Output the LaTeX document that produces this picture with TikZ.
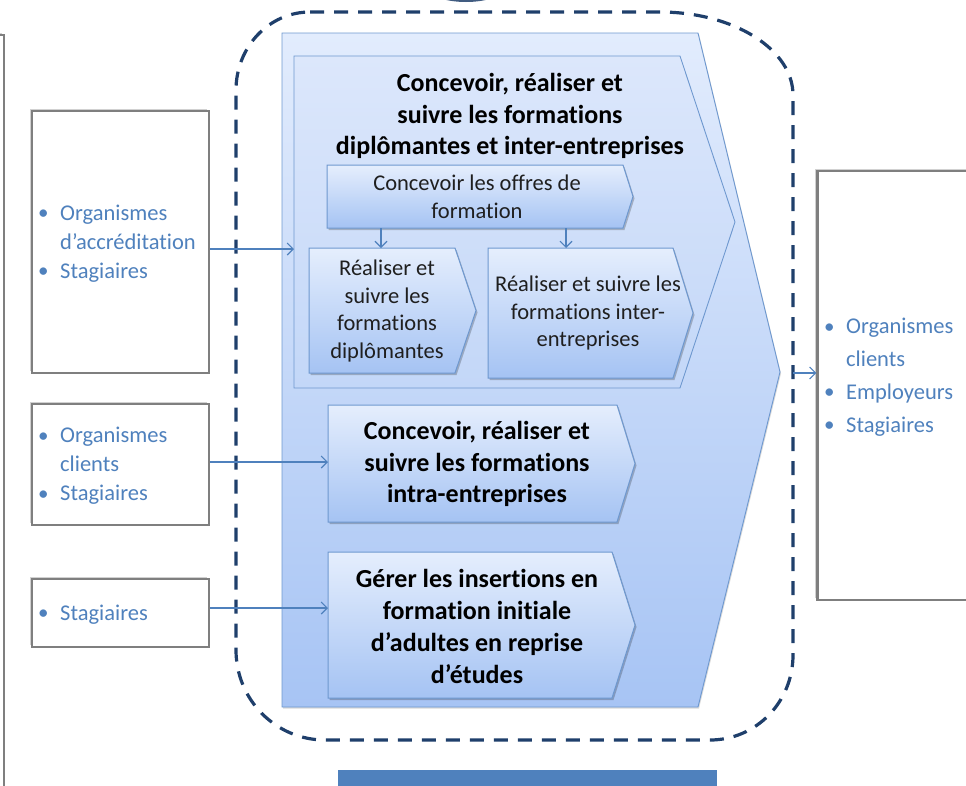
\documentclass[tikz,border=0pt]{standalone}
\usepackage{fontspec}
\setmainfont[Ligatures={NoCommon},RawFeature=-calt]{Carlito}
\usetikzlibrary{arrows.meta,shadows}
\definecolor{dashblue}{HTML}{1F3F6B}
\definecolor{txtblue}{HTML}{4F81BD}
\definecolor{edgeblue}{HTML}{6E98CF}
\definecolor{bigtop}{HTML}{E2ECFD}
\definecolor{bigbot}{HTML}{A7C4F4}
\definecolor{grptop}{HTML}{DCE7FB}
\definecolor{grpbot}{HTML}{C3D7F8}
\definecolor{subtop}{HTML}{E5EEFD}
\definecolor{subbot}{HTML}{A5C3F3}
\definecolor{boxgray}{HTML}{7F7F7F}
\definecolor{barblue}{HTML}{4F81BD}
\tikzset{
  bigchev/.style={draw=edgeblue, line width=0.9pt, top color=bigtop, bottom color=bigbot,
    drop shadow={shadow xshift=1pt, shadow yshift=-1.5pt, fill=black, opacity=.15}},
  grpchev/.style={draw=edgeblue, line width=0.9pt, top color=grptop, bottom color=grpbot},
  subchev/.style={draw=edgeblue, line width=1pt, top color=subtop, bottom color=subbot,
    drop shadow={shadow xshift=1.5pt, shadow yshift=-2pt, fill=black, opacity=.22}},
  inbox/.style={draw=boxgray, line width=2.2pt, fill=white, inner sep=0pt,
    general shadow={shadow xshift=-2.5pt, shadow yshift=2.5pt, fill=black, opacity=.18}},
  ttl/.style={align=center, font=\fontsize{26}{31.5}\selectfont\bfseries, inner sep=0pt, text=black},
  subtxt/.style={align=center, font=\fontsize{22.5}{27.6}\selectfont, inner sep=0pt, text=black!88},
  bul/.style={font=\fontsize{22.5}{29}\selectfont, text=txtblue, inner sep=0pt, anchor=west},
  arr/.style={draw=txtblue, line width=1.1pt, -{Straight Barb[length=6pt, width=12pt]}},
  dashline/.style={draw=dashblue, line width=3.2pt, dash pattern=on 14pt off 10pt}
}
\newcommand{\bitem}{\makebox[22pt][l]{\raisebox{0.5pt}{\fontsize{21}{21}\selectfont •}}}
\begin{document}
\begin{tikzpicture}[x=1pt,y=-1pt]
\useasboundingbox (0,0) rectangle (966,785);
\clip (0,0) rectangle (966,785);

% partial shape at top
\fill[dashblue!85] (466,-12) ellipse [x radius=38, y radius=14];

% left cut box
\node[inbox, minimum width=60pt, minimum height=800pt] (L0) at (-26,435) {};

% dashed boundary
\path[dashline] (310,12) -- (660,12) .. controls (733,12) and (793,49) .. (793,95)
  -- (793,655) .. controls (793,702) and (756,740) .. (710,740)
  -- (325,740) .. controls (276,740) and (236,700) .. (236,650)
  -- (236,90) .. controls (236,47) and (269,12) .. (310,12) -- cycle;

% big chevron
\path[bigchev] (282,33) -- (698,33) -- (780,372) -- (698,707) -- (282,707) -- cycle;
% group chevron
\path[grpchev] (294,56) -- (680,56) -- (735,222) -- (680,388) -- (294,388) -- cycle;
% sub chevrons
\path[subchev] (327,165) -- (623,165) -- (633,196.5) -- (623,228) -- (327,228) -- cycle;
\path[subchev] (309,248) -- (455,248) -- (476,310.5) -- (455,373) -- (309,373) -- cycle;
\path[subchev] (488,248) -- (673,248) -- (693,313) -- (673,378) -- (488,378) -- cycle;
\path[subchev] (328,405) -- (617,405) -- (635,463.5) -- (617,522) -- (328,522) -- cycle;
\path[subchev] (328,552) -- (612,552) -- (635,625) -- (612,698) -- (328,698) -- cycle;

% texts in chevrons
\node[ttl] (tGroup) at (510,116) {Concevoir, réaliser et\\suivre les formations\\diplômantes et inter-entreprises};
\node[subtxt] (tOffres) at (477,197) {Concevoir les offres de\\formation};
\node[subtxt] (tDiplo) at (387,311) {Réaliser et\\suivre les\\formations\\diplômantes};
\node[subtxt] (tInter) at (588,313) {Réaliser et suivre les\\formations inter-\\entreprises};
\node[ttl] (tIntra) at (477,464) {Concevoir, réaliser et\\suivre les formations\\intra-entreprises};
\node[ttl, font=\fontsize{26}{32}\selectfont\bfseries] (tGerer) at (477,626) {Gérer les insertions en\\formation initiale\\d’adultes en reprise\\d’études};

% input / output boxes
\node[inbox, minimum width=177pt, minimum height=262pt] (L1) at (120.5,242) {};
\node[inbox, minimum width=177pt, minimum height=121pt] (L2) at (120.5,464.5) {};
\node[inbox, minimum width=177pt, minimum height=68pt] (L3) at (120.5,613) {};
\node[inbox, minimum width=175pt, minimum height=429pt] (R) at (905,385.5) {};

\node[bul] (b1) at (38,243.5) {\begin{tabular}{@{}l@{}l@{}}\bitem&Organismes\\&d’accréditation\\\bitem&Stagiaires\end{tabular}};
\node[bul] (b2) at (38,466) {\begin{tabular}{@{}l@{}l@{}}\bitem&Organismes\\&clients\\\bitem&Stagiaires\end{tabular}};
\node[bul] (b3) at (38,614.5) {\begin{tabular}{@{}l@{}l@{}}\bitem&Stagiaires\end{tabular}};
\node[bul, font=\fontsize{22.5}{32.7}\selectfont] (b4) at (824,376.5) {\begin{tabular}{@{}l@{}l@{}}\bitem&Organismes\\&clients\\\bitem&Employeurs\\\bitem&Stagiaires\end{tabular}};

% connector end points
\coordinate (inGroup) at (294,249);
\coordinate (inIntra) at (328,462);
\coordinate (inGerer) at (328,608);
\coordinate (offA) at (381,228);
\coordinate (diploN) at (381,248);
\coordinate (offB) at (566,228);
\coordinate (interN) at (566,248);
\coordinate (outS) at (793,373);

\draw[arr] (L1.east |- inGroup) -- (inGroup);
\draw[arr] (L2.east |- inIntra) -- (inIntra);
\draw[arr] (L3.east |- inGerer) -- (inGerer);
\draw[arr] (offA) -- (diploN);
\draw[arr] (offB) -- (interN);
\draw[arr] (outS) -- (R.west |- outS);

% bottom bar
\fill[barblue] (338,770) rectangle (717,792);
\end{tikzpicture}
\end{document}
